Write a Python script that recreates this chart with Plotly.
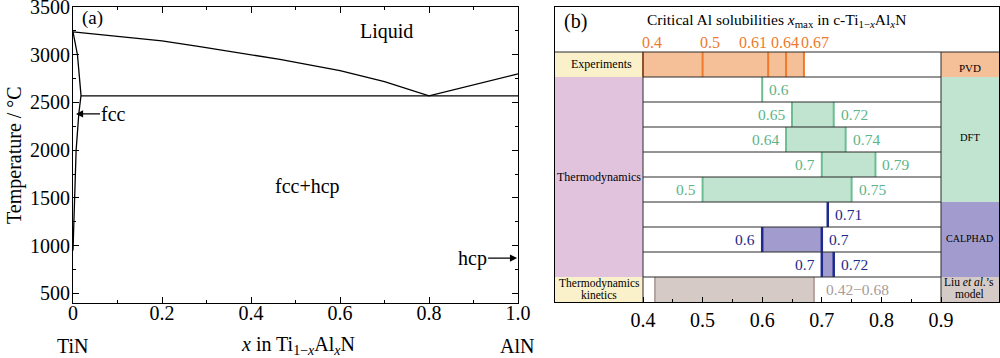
import plotly.graph_objects as go

# ---------------- Panel (a) data: TiN-AlN phase diagram ----------------
liquidus_x = [0, 0.1, 0.2, 0.285, 0.4, 0.465, 0.6, 0.7, 0.8, 1.0]
liquidus_T = [3240, 3195, 3145, 3085, 3005, 2952, 2833, 2718, 2570, 2800]
solvus_x = [0, 0.01, 0.018, 0.013, 0.007, 0.005, 0.003, 0]
solvus_T = [3240, 3000, 2575, 2380, 2000, 1700, 1500, 950]
eutectic_x = [0.018, 1.0]
eutectic_T = [2570, 2570]
a_xticks = [0, 0.2, 0.4, 0.6, 0.8, 1.0]
a_xticklabels = ["0", "0.2", "0.4", "0.6", "0.8", "1.0"]
a_xminor = [0.1, 0.3, 0.5, 0.7, 0.9]
a_yticks = [500, 1000, 1500, 2000, 2500, 3000, 3500]
a_yminor = [750, 1250, 1750, 2250, 2750, 3250]

# ---------------- Panel (b) data: critical Al solubilities ----------------
exp_values = [0.4, 0.5, 0.61, 0.64, 0.67]
exp_labels = ["0.4", "0.5", "0.61", "0.64", "0.67"]
dft_low = [0.6, 0.65, 0.64, 0.7, 0.5]
dft_high = [None, 0.72, 0.74, 0.79, 0.75]
calphad_low = [0.71, 0.6, 0.7]
calphad_high = [None, 0.7, 0.72]
liu_low = 0.42
liu_high = 0.687
liu_label = "0.42\u22120.68"
b_xticks = [0.4, 0.5, 0.6, 0.7, 0.8, 0.9]
b_xticklabels = ["0.4", "0.5", "0.6", "0.7", "0.8", "0.9"]
b_xminor = [0.45, 0.55, 0.65, 0.75, 0.85]

FONT = "Liberation Serif"
W, H = 1000, 358


def PX(px):
    return px / W


def PY(py):
    return 1 - py / H


# colours
C_EXP_FILL, C_EXP_LINE = "#F5BF98", "#EE7A2E"
C_DFT_FILL, C_DFT_LINE, C_DFT_TXT = "#C0E4D0", "#6CBE92", "#5DB487"
C_CAL_FILL, C_CAL_LINE, C_CAL_TXT = "#A29CCE", "#1E2A8E", "#1C2A8A"
C_LIU_FILL, C_LIU_LINE, C_LIU_TXT = "#D6CAC6", "#A8928C", "#A89C98"
C_YELLOW, C_PINK = "#FAF0C9", "#E2C3DD"

fig = go.Figure()

# ---- panel (a) traces
for xs, ys in [(liquidus_x, liquidus_T), (solvus_x, solvus_T), (eutectic_x, eutectic_T)]:
    fig.add_trace(go.Scatter(x=xs, y=ys, mode="lines", line=dict(color="black", width=1.3),
                             xaxis="x", yaxis="y", showlegend=False, hoverinfo="skip"))

# ---- panel (b) geometry
xl = 0.4 - (643 - 555) / 596
xr = 0.9 + (999 - 941) / 596

shapes = []
def cell(x0, x1, y0, y1, color):
    shapes.append(dict(type="rect", xref="x2", yref="y2", x0=x0, x1=x1, y0=y0, y1=y1,
                       fillcolor=color, line=dict(width=0), layer="below"))

cell(xl, 0.4, 0, 1, C_YELLOW)
cell(xl, 0.4, 1, 9, C_PINK)
cell(xl, 0.4, 9, 10, C_YELLOW)
cell(0.9, xr, 0, 1, C_EXP_FILL)
cell(0.9, xr, 1, 6, C_DFT_FILL)
cell(0.9, xr, 6, 9, C_CAL_FILL)
cell(0.9, xr, 9, 10, C_LIU_FILL)

def hbar(rows, lows, highs, color):
    ys, xs, bs = [], [], []
    for r, lo, hi in zip(rows, lows, highs):
        if hi is None:
            continue
        ys.append(r + 0.5)
        xs.append(hi - lo)
        bs.append(lo)
    fig.add_trace(go.Bar(y=ys, x=xs, base=bs, orientation="h", width=1,
                         marker=dict(color=color, line=dict(width=0)),
                         xaxis="x2", yaxis="y2", showlegend=False, hoverinfo="skip"))

hbar([0], [min(exp_values)], [max(exp_values)], C_EXP_FILL)
dft_rows = [1, 2, 3, 4, 5]
cal_rows = [6, 7, 8]
hbar(dft_rows, dft_low, dft_high, C_DFT_FILL)
hbar(cal_rows, calphad_low, calphad_high, C_CAL_FILL)
hbar([9], [liu_low], [liu_high], C_LIU_FILL)

def vlines(rows, lows, highs, color, width):
    xs, ys = [], []
    for r, lo, hi in zip(rows, lows, highs):
        for v in (lo, hi):
            if v is None:
                continue
            xs += [v, v, None]
            ys += [r, r + 1, None]
    fig.add_trace(go.Scatter(x=xs, y=ys, mode="lines", line=dict(color=color, width=width),
                             xaxis="x2", yaxis="y2", showlegend=False, hoverinfo="skip"))

vlines([0] * len(exp_values), exp_values, [None] * len(exp_values), C_EXP_LINE, 2)
vlines(dft_rows, dft_low, dft_high, C_DFT_LINE, 2)
vlines(cal_rows, calphad_low, calphad_high, C_CAL_LINE, 2.5)
vlines([9], [liu_low], [liu_high], C_LIU_LINE, 1.5)

gx, gy = [], []
for r in range(1, 10):
    gx += [0.4, 0.9, None]
    gy += [r, r, None]
gx += [xl, xr, None, 0.4, 0.4, None, 0.9, 0.9, None]
gy += [0, 0, None, 0, 10, None, 0, 10, None]
fig.add_trace(go.Scatter(x=gx, y=gy, mode="lines", line=dict(color="#2a2a2a", width=1),
                         xaxis="x2", yaxis="y2", showlegend=False, hoverinfo="skip"))

# ---- annotations
ann = []
def A(text, x, y, xref, yref, size, color="black", xanchor="center", xshift=0, yshift=0, **kw):
    d = dict(text=text, x=x, y=y, xref=xref, yref=yref, showarrow=False,
             font=dict(family=FONT, size=size, color=color), xanchor=xanchor,
             yanchor="middle", xshift=xshift, yshift=yshift)
    d.update(kw)
    ann.append(d)

# panel (a)
A("(a)", PX(80), PY(18), "paper", "paper", 19, xanchor="left")
A("Liquid", 0.705, 3240, "x", "y", 20)
A("fcc+hcp", 0.528, 1620, "x", "y", 20)
ann.append(dict(text="fcc", x=0.0067, y=2380, xref="x", yref="y", ax=38, ay=0,
                showarrow=True, arrowhead=2, arrowsize=1.1, arrowwidth=1.3, arrowcolor="black",
                font=dict(family=FONT, size=20, color="black")))
ann.append(dict(text="hcp", x=0.998, y=870, xref="x", yref="y", ax=-45, ay=0,
                showarrow=True, arrowhead=2, arrowsize=1.1, arrowwidth=1.3, arrowcolor="black",
                font=dict(family=FONT, size=20, color="black")))
A("TiN", PX(73), PY(346), "paper", "paper", 20)
A("<i>x</i> in Ti<sub>1\u2212<i>x</i></sub>Al<sub><i>x</i></sub>N", PX(298), PY(345), "paper", "paper", 20)
A("AlN", PX(517), PY(346), "paper", "paper", 20)
A("Temperature / \u00b0C", PX(14), PY(155), "paper", "paper", 20, textangle=-90)

# panel (b) header
A("(b)", PX(562), PY(22), "paper", "paper", 20, xanchor="left")
A("Critical Al solubilities <i>x</i><sub>max</sub> in c-Ti<sub>1\u2212<i>x</i></sub>Al<sub><i>x</i></sub>N",
  PX(776), PY(20), "paper", "paper", 15.5)
exp_anchor = ["left", "left", "right", "center", "left"]
exp_shift = [-3, -5, 1, -1, -5]
for v, t, a, s in zip(exp_values, exp_labels, exp_anchor, exp_shift):
    A(t, v, -0.36, "x2", "y2", 16, C_EXP_LINE, xanchor=a, xshift=s)

def row_labels(rows, lows, highs, color):
    for r, lo, hi in zip(rows, lows, highs):
        if hi is None:
            A(f"{lo:g}", lo, r + 0.5, "x2", "y2", 15.5, color, xanchor="left", xshift=5)
        else:
            A(f"{lo:g}", lo, r + 0.5, "x2", "y2", 15.5, color, xanchor="right", xshift=-5)
            A(f"{hi:g}", hi, r + 0.5, "x2", "y2", 15.5, color, xanchor="left", xshift=5)

row_labels(dft_rows, dft_low, dft_high, C_DFT_TXT)
row_labels(cal_rows, calphad_low, calphad_high, C_CAL_TXT)
A(liu_label, liu_high, 9.5, "x2", "y2", 15.5, C_LIU_TXT, xanchor="left", xshift=10)

# category labels
A("Experiments", PX(601), PY(64), "paper", "paper", 12)
A("Thermodynamics", PX(599), PY(177), "paper", "paper", 12)
A("Thermodynamics", PX(599), PY(283), "paper", "paper", 11.5)
A("kinetics", PX(599), PY(295), "paper", "paper", 11.5)
A("PVD", PX(970), PY(68), "paper", "paper", 11)
A("DFT", PX(970), PY(137), "paper", "paper", 10.5)
A("CALPHAD", PX(969), PY(238), "paper", "paper", 10)
A("Liu <i>et al.</i>\u2019s", PX(969), PY(282), "paper", "paper", 11.5)
A("model", PX(969), PY(294), "paper", "paper", 11.5)

axis_common = dict(showgrid=False, zeroline=False, linecolor="black", linewidth=1,
                   tickcolor="black", tickfont=dict(family=FONT, size=20, color="black"),
                   ticklabeloverflow="allow", automargin=False)

fig.update_layout(
    width=W, height=H, autosize=False, margin=dict(l=0, r=0, t=0, b=0, autoexpand=False),
    paper_bgcolor="white", plot_bgcolor="white", showlegend=False, barmode="overlay",
    font=dict(family=FONT, color="black"),
    xaxis=dict(domain=[PX(73), PX(518)], range=[0, 1], tickvals=a_xticks, ticktext=a_xticklabels,
               ticks="inside", ticklen=6, showline=True, mirror="ticks",
               minor=dict(tickvals=a_xminor, ticks="inside", ticklen=3, tickcolor="black"),
               anchor="y", ticklabelstandoff=-8, **axis_common),
    yaxis=dict(domain=[PY(303), PY(7)], range=[400, 3500], tickvals=a_yticks,
               ticks="inside", ticklen=6, showline=True, mirror="ticks",
               minor=dict(tickvals=a_yminor, ticks="inside", ticklen=3, tickcolor="black"),
               anchor="x", ticklabelstandoff=-2, **axis_common),
    xaxis2=dict(domain=[PX(555), PX(999)], range=[xl, xr], tickvals=b_xticks, ticktext=b_xticklabels,
                ticks="inside", ticklen=5, showline=True, mirror=True,
                minor=dict(tickvals=b_xminor, ticks="inside", ticklen=3, tickcolor="black"),
                anchor="y2", ticklabelstandoff=0, **axis_common),
    yaxis2=dict(domain=[PY(302), PY(7)], range=[10, -1.8], showticklabels=False, ticks="",
                showline=True, mirror=True, anchor="x2", showgrid=False, zeroline=False,
                linecolor="black", linewidth=1, automargin=False),
    shapes=shapes, annotations=ann,
)

post = ("document.documentElement.style.margin='0';document.body.style.margin='0';"
        "document.body.style.padding='0';document.body.style.overflow='hidden';"
        "var gd=document.getElementById('{plot_id}');"
        "Plotly.relayout(gd,{width:1000,height:358});")
fig.write_html("out.html", config={"displayModeBar": False, "responsive": False}, post_script=post)
